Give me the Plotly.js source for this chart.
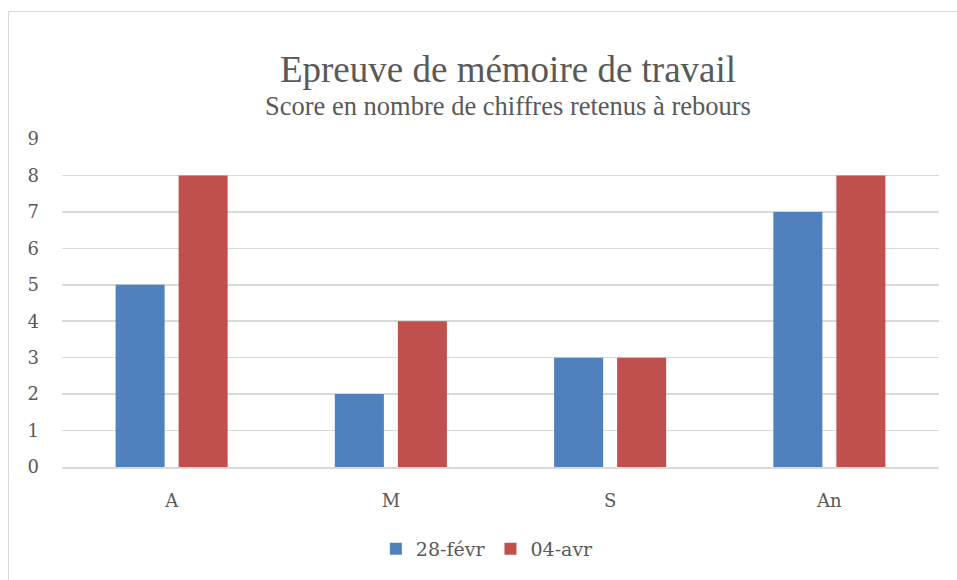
<!DOCTYPE html>
<html><head><meta charset="utf-8">
<script src="https://cdn.plot.ly/plotly-3.0.1.min.js"></script>
<style>
html,body{margin:0;padding:0;background:#fff;}
#c{position:absolute;left:0;top:0;width:957px;height:580px;}
#frame{position:absolute;left:8px;top:11px;width:960px;height:580px;border-top:1.5px solid #D9D9D9;border-left:1.5px solid #D9D9D9;pointer-events:none;}
</style></head>
<body>
<div id="c"></div><div id="frame"></div>
<script>
var categories = ["A", "M", "S", "An"];
var seriesNames = ["28-févr", "04-avr"];
var fevr = [5, 2, 3, 7];
var avr = [8, 4, 3, 8];
var yTicks = [0,1,2,3,4,5,6,7,8,9];

var serif = "'DejaVu Serif', serif";
var times = "'Liberation Serif', 'Times New Roman', Times, serif";
var traces = [
  {type:"bar", name:seriesNames[0], x:categories, y:fevr, marker:{color:"#4F81BD"}},
  {type:"bar", name:seriesNames[1], x:categories, y:avr, marker:{color:"#C0504D"}}
];
var layout = {
  width:957, height:580,
  margin:{l:62, r:18, t:139, b:113},
  paper_bgcolor:"#fff", plot_bgcolor:"#fff",
  barmode:"group", bargap:0.425, bargroupgap:0.222,
  font:{family:serif, color:"#595959", size:18},
  title:{text:"Epreuve de mémoire de travail", font:{family:times, size:37, color:"#595959"},
    x:508/957, xanchor:"center", y:1-69/580, yanchor:"middle"},
  annotations:[{text:"Score en nombre de chiffres retenus à rebours", xref:"paper", yref:"paper",
    x:(507.5-62)/877, y:1+(139-106)/328, xanchor:"center", yanchor:"middle", showarrow:false,
    font:{family:times, size:26.5, color:"#595959"}}],
  xaxis:{showgrid:false, showline:true, linecolor:"#D9D9D9", linewidth:1.5, ticks:"", ticklabelstandoff:17,
    tickfont:{family:serif, size:18, color:"#595959"}},
  yaxis:{range:[0,9], tickvals:yTicks, showgrid:true, gridcolor:"#D9D9D9", gridwidth:1.5, zeroline:false,
    showline:false, ticks:"", ticklabelstandoff:22, tickfont:{family:serif, size:18, color:"#595959"}},
  showlegend:true,
  legend:{orientation:"h", x:0.485, xanchor:"center", y:-(549-467)/328, yanchor:"middle",
    font:{family:serif, size:19, color:"#595959"}, itemwidth:30, traceorder:"normal"}
};
Plotly.newPlot("c", traces, layout, {displayModeBar:false, staticPlot:true});
</script>
</body></html>
